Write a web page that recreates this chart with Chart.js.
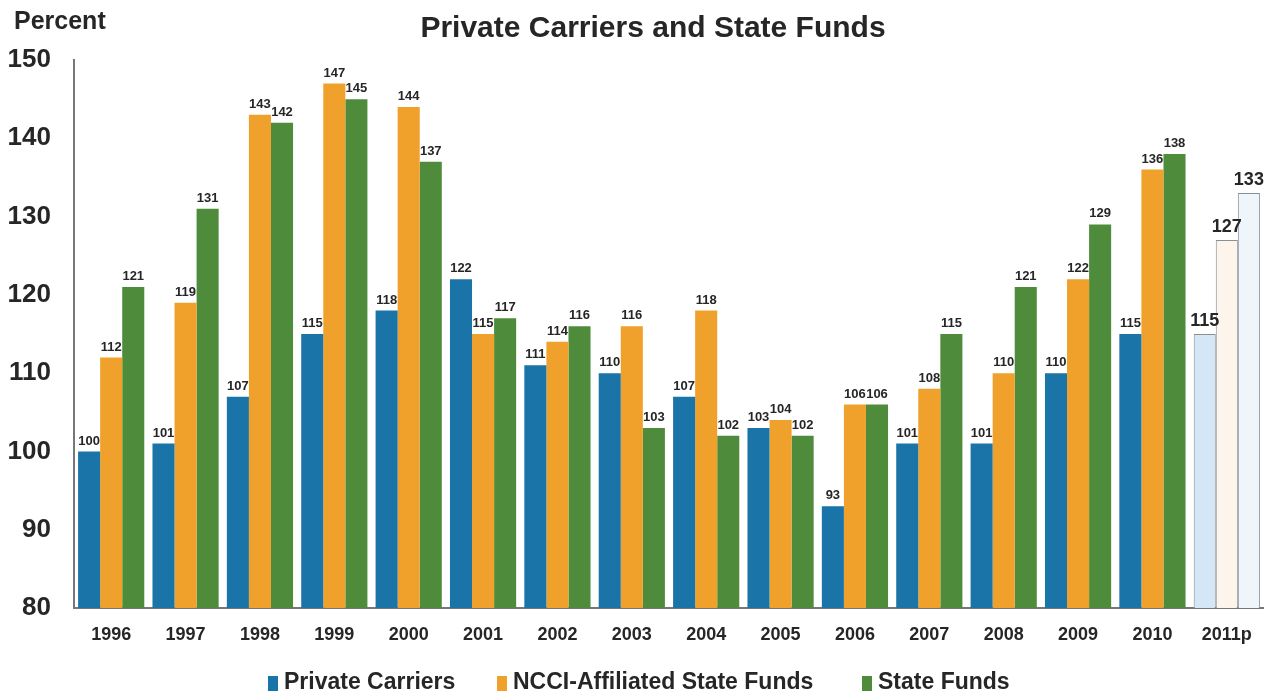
<!DOCTYPE html>
<html>
<head>
<meta charset="utf-8">
<script src="https://cdn.jsdelivr.net/npm/chart.js@4"></script>
<style>
  html, body { margin: 0; padding: 0; background: #fff; }
  #wrap { width: 1264px; height: 694px; }
</style>
</head>
<body>
<div id="wrap"><canvas id="chart" width="1264" height="694"></canvas></div>
<script>
  //----data
  const years = ['1996', '1997', '1998', '1999', '2000', '2001', '2002', '2003', '2004', '2005', '2006', '2007', '2008', '2009', '2010', '2011p'];
  const privateCarriers = [100, 101, 107, 115, 118, 122, 111, 110, 107, 103, 93, 101, 101, 110, 115, 115];
  const ncciFunds = [112, 119, 143, 147, 144, 115, 114, 116, 118, 104, 106, 108, 110, 122, 136, 127];
  const stateFunds = [121, 131, 142, 145, 137, 117, 116, 103, 102, 102, 106, 115, 121, 129, 138, 133];
  const yTicks = [80, 90, 100, 110, 120, 130, 140, 150];

  const lastIdx = years.length - 1;
  // solid colours, pale ones for the projected year
  function colours(solid, pale) {
    return years.map((y, i) => i === lastIdx ? pale : solid);
  }
  function borders() {
    return years.map((y, i) => i === lastIdx ? 1 : 0);
  }

  const FONT = 'Liberation Sans, Arial, sans-serif';
  const INK = '#262626';

  // titles drawn by hand so they sit where the original has them
  const headings = {
    id: 'headings',
    afterDraw(chart) {
      const c = chart.ctx;
      c.save();
      c.fillStyle = INK;
      c.textBaseline = 'middle';
      c.font = 'bold 25px ' + FONT;
      c.textAlign = 'left';
      c.fillText('Percent', 14, 22);
      c.font = 'bold 30px ' + FONT;
      c.textAlign = 'center';
      c.fillText('Private Carriers and State Funds', 653, 29);
      c.restore();
    }
  };

  // legend under the axis, spaced like the original
  const legendX = [268, 497, 862];
  const bottomLegend = {
    id: 'bottomLegend',
    afterDraw(chart) {
      const c = chart.ctx;
      c.save();
      c.textBaseline = 'middle';
      c.textAlign = 'left';
      c.font = 'bold 23px ' + FONT;
      chart.data.datasets.forEach((ds, i) => {
        const x = legendX[i];
        c.fillStyle = ds.backgroundColor[0];
        c.fillRect(x, 676, 10, 15);
        c.fillStyle = INK;
        c.fillText(ds.label, x + 16, 683);
      });
      c.restore();
    }
  };

  // value above each bar
  const barLabels = {
    id: 'barLabels',
    afterDatasetsDraw(chart) {
      const c = chart.ctx;
      c.save();
      c.fillStyle = INK;
      c.textAlign = 'center';
      c.textBaseline = 'bottom';
      chart.data.datasets.forEach((ds, di) => {
        chart.getDatasetMeta(di).data.forEach((bar, i) => {
          c.font = i === lastIdx ? 'bold 18px ' + FONT : 'bold 13px ' + FONT;
          c.fillText(ds.data[i], bar.x, bar.y - 4);
        });
      });
      c.restore();
    }
  };

  const ctx = document.getElementById('chart').getContext('2d');
  const chart = new Chart(ctx, {
    type: 'bar',
    data: {
      labels: years,
      datasets: [{
        label: 'Private Carriers',
        data: privateCarriers,
        backgroundColor: colours('#1b74a8', '#d5e7f6'),
        borderColor: '#8a8f96',
        borderWidth: borders()
      }, {
        label: 'NCCI-Affiliated State Funds',
        data: ncciFunds,
        backgroundColor: colours('#efa12c', '#fdf4ec'),
        borderColor: '#8a8f96',
        borderWidth: borders()
      }, {
        label: 'State Funds',
        data: stateFunds,
        backgroundColor: colours('#4e8c3c', '#eef5fb'),
        borderColor: '#8a8f96',
        borderWidth: borders()
      }]
    },
    options: {
      responsive: false,
      animation: false,
      layout: { padding: { top: 60, right: 0, left: 0, bottom: 46 } },
      datasets: {
        bar: { categoryPercentage: 0.89, barPercentage: 1.0 }
      },
      scales: {
        x: {
          grid: { display: false },
          border: { display: true, color: '#777', width: 2 },
          ticks: {
            color: INK,
            font: { family: FONT, size: 18, weight: 'bold' },
            padding: 8,
            maxRotation: 0
          },
          afterFit(scale) { scale.height = 40; }
        },
        y: {
          min: 80,
          max: 150,
          afterBuildTicks(scale) { scale.ticks = yTicks.map(v => ({ value: v })); },
          grid: { display: false },
          border: { display: true, color: '#777', width: 2 },
          ticks: {
            color: INK,
            font: { family: FONT, size: 26, weight: 'bold' },
            padding: 15
          },
          afterFit(scale) { scale.width = 74; }
        }
      },
      plugins: {
        title: { display: false },
        tooltip: { enabled: false },
        legend: { display: false }
      }
    },
    plugins: [headings, barLabels, bottomLegend]
  });
</script>
</body>
</html>
